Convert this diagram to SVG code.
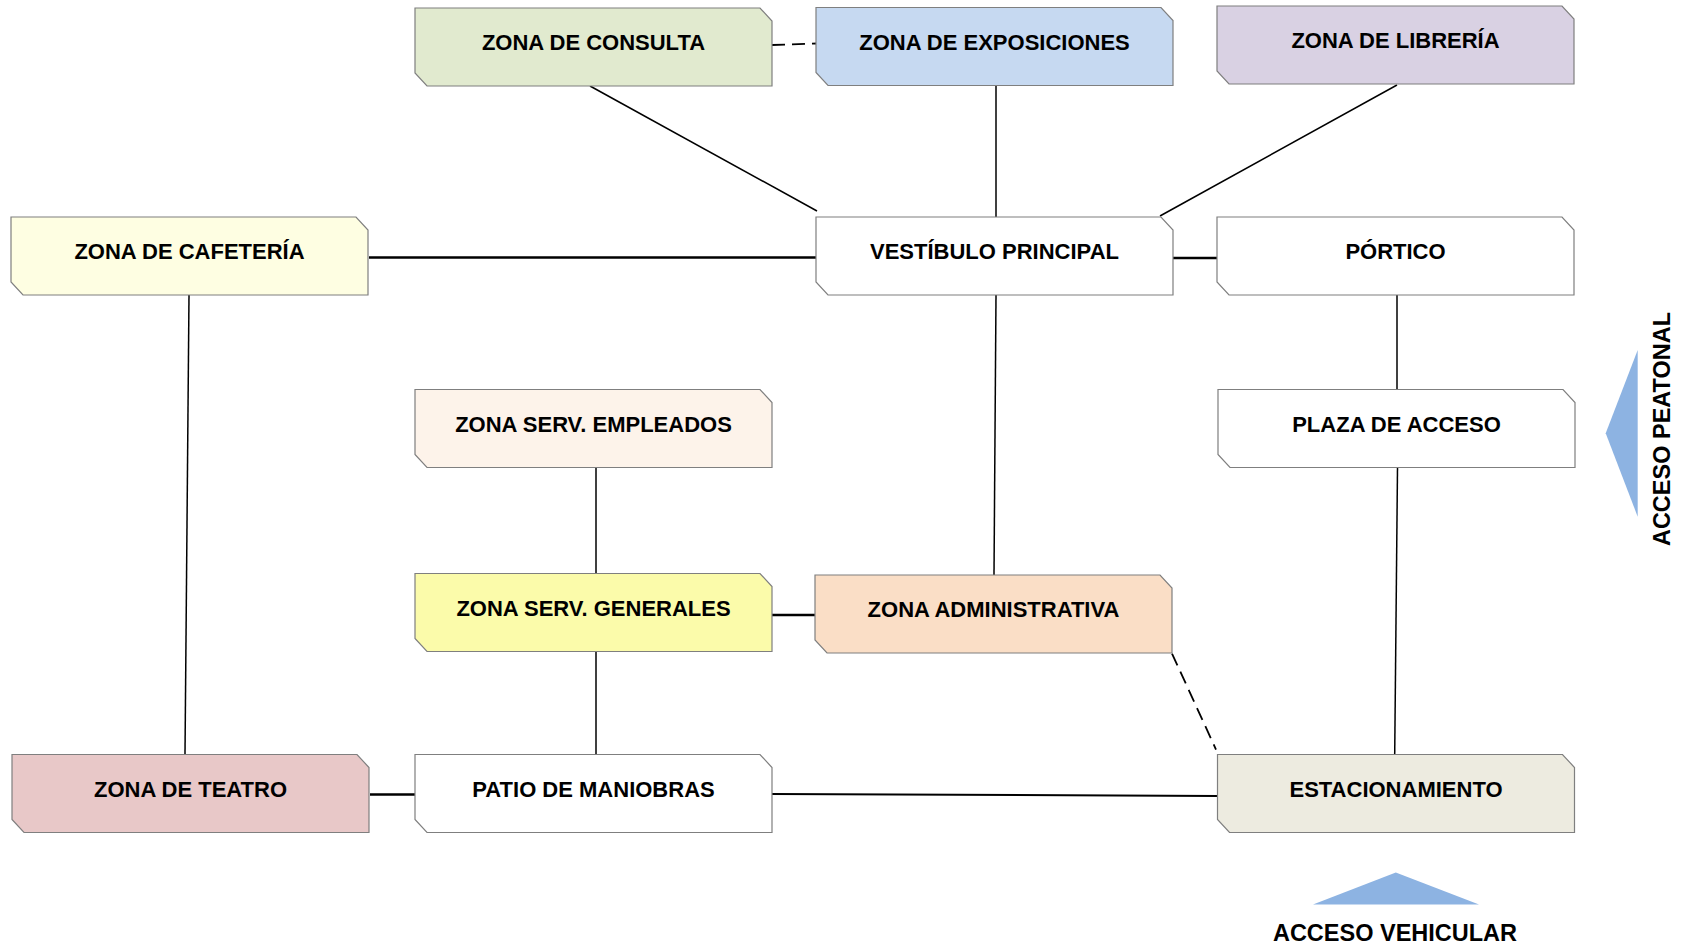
<svg xmlns="http://www.w3.org/2000/svg" width="1691" height="948" viewBox="0 0 1691 948">
<defs>
<style>
.box{stroke:#7f7f7f;stroke-width:1.2}
.lbl{font-family:"Liberation Sans",Arial,sans-serif;font-weight:bold;font-size:22px;fill:#000;text-anchor:middle}
.acc{font-family:"Liberation Sans",Arial,sans-serif;font-weight:bold;font-size:23.5px;fill:#000;text-anchor:middle}
.c{stroke:#000;stroke-width:1.5;fill:none}
.thick{stroke-width:2.6}
.dash{stroke-dasharray:13 7;stroke-width:1.8}
.tri{fill:#8db3e2}
</style>
<path id="shape" d="M0,0 H345 L357,13 V78 H12 L0,65 Z"/>
</defs>
<rect width="1691" height="948" fill="#fff"/>
<g id="connectors">
<line class="c dash" x1="772" y1="45" x2="817" y2="43.5"/>
<line class="c" x1="590" y1="86" x2="817" y2="211"/>
<line class="c" x1="996" y1="86" x2="996" y2="217"/>
<line class="c" x1="1397" y1="85" x2="1160" y2="216"/>
<line class="c thick" x1="369" y1="257.5" x2="816" y2="257.5"/>
<line class="c thick" x1="1173" y1="258" x2="1217" y2="258"/>
<line class="c" x1="189" y1="295" x2="185" y2="754.5"/>
<line class="c" x1="996" y1="295" x2="994" y2="575"/>
<line class="c" x1="1397" y1="295" x2="1397" y2="389.5"/>
<line class="c" x1="1397.5" y1="467.5" x2="1394.7" y2="754.5"/>
<line class="c" x1="596" y1="467.5" x2="596" y2="573.5"/>
<line class="c thick" x1="772" y1="615" x2="815" y2="615"/>
<line class="c" x1="596" y1="652" x2="596" y2="754.5"/>
<line class="c dash" x1="1172" y1="653.5" x2="1216" y2="749.5"/>
<line class="c thick" x1="370" y1="794.5" x2="415" y2="794.5"/>
<line class="c" style="stroke-width:2" x1="772" y1="794" x2="1217.5" y2="796"/>
</g>
<g id="consulta"><use href="#shape" class="box" fill="#e1eacf" x="415" y="8"/><text class="lbl" x="593.5" y="50">ZONA DE CONSULTA</text></g>
<g id="exposiciones"><use href="#shape" class="box" fill="#c6d9f1" x="816" y="7.5"/><text class="lbl" x="994.5" y="49.5">ZONA DE EXPOSICIONES</text></g>
<g id="libreria"><use href="#shape" class="box" fill="#d9d1e3" x="1217" y="6"/><text class="lbl" x="1395.5" y="48">ZONA DE LIBRERÍA</text></g>
<g id="cafeteria"><use href="#shape" class="box" fill="#fefee2" x="11" y="217"/><text class="lbl" x="189.5" y="259">ZONA DE CAFETERÍA</text></g>
<g id="vestibulo"><use href="#shape" class="box" fill="#ffffff" x="816" y="217"/><text class="lbl" x="994.5" y="259">VESTÍBULO PRINCIPAL</text></g>
<g id="portico"><use href="#shape" class="box" fill="#ffffff" x="1217" y="217"/><text class="lbl" x="1395.5" y="259">PÓRTICO</text></g>
<g id="empleados"><use href="#shape" class="box" fill="#fdf3ea" x="415" y="389.5"/><text class="lbl" x="593.5" y="431.5">ZONA SERV. EMPLEADOS</text></g>
<g id="plaza"><use href="#shape" class="box" fill="#ffffff" x="1218" y="389.5"/><text class="lbl" x="1396.5" y="432">PLAZA DE ACCESO</text></g>
<g id="generales"><use href="#shape" class="box" fill="#fbfbaa" x="415" y="573.5"/><text class="lbl" x="593.5" y="615.5">ZONA SERV. GENERALES</text></g>
<g id="administrativa"><use href="#shape" class="box" fill="#fadec6" x="815" y="575"/><text class="lbl" x="993.5" y="617">ZONA ADMINISTRATIVA</text></g>
<g id="teatro"><use href="#shape" class="box" fill="#e8c8c8" x="12" y="754.5"/><text class="lbl" x="190.5" y="796.5">ZONA DE TEATRO</text></g>
<g id="patio"><use href="#shape" class="box" fill="#ffffff" x="415" y="754.5"/><text class="lbl" x="593.5" y="796.5">PATIO DE MANIOBRAS</text></g>
<g id="estacionamiento"><use href="#shape" class="box" fill="#edebe0" x="1217.5" y="754.5"/><text class="lbl" x="1396" y="796.5">ESTACIONAMIENTO</text></g>
<g id="acceso-vehicular"><polygon class="tri" points="1395.8,872.6 1313,904.5 1479,904.5"/><text class="acc" x="1395" y="941">ACCESO VEHICULAR</text></g>
<g id="acceso-peatonal"><polygon class="tri" points="1605.7,433.3 1637.7,350 1637.7,516.7"/><text class="acc" transform="translate(1670,429) rotate(-90)" x="0" y="0">ACCESO PEATONAL</text></g>
</svg>
